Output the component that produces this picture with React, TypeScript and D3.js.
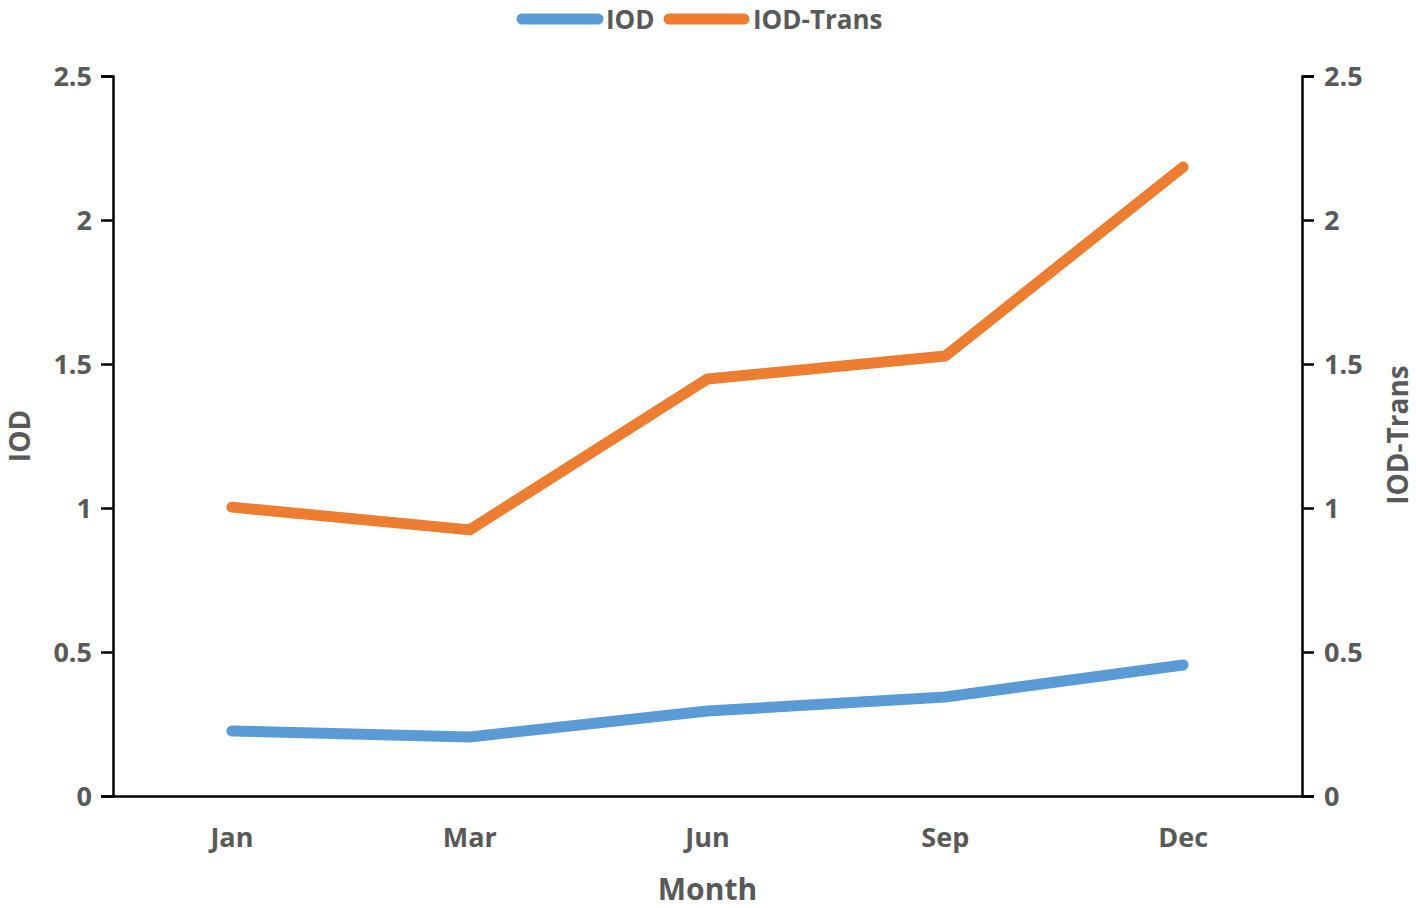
import React, { useEffect, useRef } from "react";
import * as d3 from "d3";

const months = ["Jan", "Mar", "Jun", "Sep", "Dec"];
const iod = [0.226, 0.205, 0.295, 0.344, 0.455];
const iodTrans = [1.003, 0.924, 1.448, 1.528, 2.184];
const yTicks = [0, 0.5, 1, 1.5, 2, 2.5];

const W = 1416, H = 908;
const M = { left: 113, right: 1302, top: 76, bottom: 796 };
const FONT = "'Open Sans', 'Noto Sans', sans-serif";
const TXT = "#595959";

export default function App() {
  const ref = useRef<SVGSVGElement>(null);
  useEffect(() => {
    const svg = d3.select(ref.current);
    svg.selectAll("*").remove();
    const x = d3.scaleBand().domain(months).range([M.left, M.right]);
    const y = d3.scaleLinear().domain([0, 2.5]).range([M.bottom, M.top]);
    const y2 = d3.scaleLinear().domain([0, 2.5]).range([M.bottom, M.top]);

    const styleAxis = (g: any) => {
      g.select(".domain").attr("stroke", "#000").attr("stroke-width", 2.5);
      g.selectAll(".tick line").attr("stroke", "#000").attr("stroke-width", 2.5);
      g.selectAll(".tick text").attr("fill", TXT).attr("font-family", FONT)
        .attr("font-weight", "bold").attr("font-size", 27).attr("dy", "0.35em");
    };

    const gl = svg.append("g").attr("transform", `translate(${M.left},0)`)
      .call(d3.axisLeft(y).tickValues(yTicks).tickSize(12).tickPadding(9).tickFormat(d3.format("")));
    styleAxis(gl);

    const gr = svg.append("g").attr("transform", `translate(${M.right},0)`)
      .call(d3.axisRight(y2).tickValues(yTicks).tickSize(12).tickPadding(10).tickFormat(d3.format("")));
    styleAxis(gr);

    const gb = svg.append("g").attr("transform", `translate(0,${M.bottom})`)
      .call(d3.axisBottom(x).tickSize(0).tickPadding(32));
    gb.select(".domain").attr("stroke", "#000").attr("stroke-width", 2.5);
    gb.selectAll(".tick text").attr("fill", TXT).attr("font-family", FONT)
      .attr("font-weight", "bold").attr("font-size", 27);

    const line = (sc: any) => d3.line<number>()
      .x((_, i) => (x(months[i]) as number) + x.bandwidth() / 2)
      .y((d) => sc(d));

    svg.append("path").datum(iod).attr("d", line(y)).attr("fill", "none")
      .attr("stroke", "#5B9BD5").attr("stroke-width", 11)
      .attr("stroke-linecap", "round").attr("stroke-linejoin", "round");
    svg.append("path").datum(iodTrans).attr("d", line(y2)).attr("fill", "none")
      .attr("stroke", "#ED7D31").attr("stroke-width", 11)
      .attr("stroke-linecap", "round").attr("stroke-linejoin", "round");

    svg.append("text").attr("transform", `translate(30,436) rotate(-90)`)
      .attr("text-anchor", "middle").attr("fill", TXT).attr("font-family", FONT)
      .attr("font-weight", "bold").attr("font-size", 28).text("IOD");
    svg.append("text").attr("transform", `translate(1408,435) rotate(-90)`)
      .attr("text-anchor", "middle").attr("fill", TXT).attr("font-family", FONT)
      .attr("font-weight", "bold").attr("font-size", 28).text("IOD-Trans");
    svg.append("text").attr("x", (M.left + M.right) / 2).attr("y", 900)
      .attr("text-anchor", "middle").attr("fill", TXT).attr("font-family", FONT)
      .attr("font-weight", "bold").attr("font-size", 30).text("Month");

    const legend = [
      { name: "IOD", color: "#5B9BD5", x0: 522, x1: 598, tx: 606 },
      { name: "IOD-Trans", color: "#ED7D31", x0: 669, x1: 744, tx: 753 },
    ];
    legend.forEach((l) => {
      svg.append("line").attr("x1", l.x0).attr("x2", l.x1).attr("y1", 19).attr("y2", 19)
        .attr("stroke", l.color).attr("stroke-width", 11).attr("stroke-linecap", "round");
      svg.append("text").attr("x", l.tx).attr("y", 29).attr("fill", TXT)
        .attr("font-family", FONT).attr("font-weight", "bold").attr("font-size", 26).text(l.name);
    });
  }, []);
  return (
    <svg ref={ref} width={W} height={H}
      style={{ position: "absolute", left: 0, top: 0, background: "#fff" }} />
  );
}
